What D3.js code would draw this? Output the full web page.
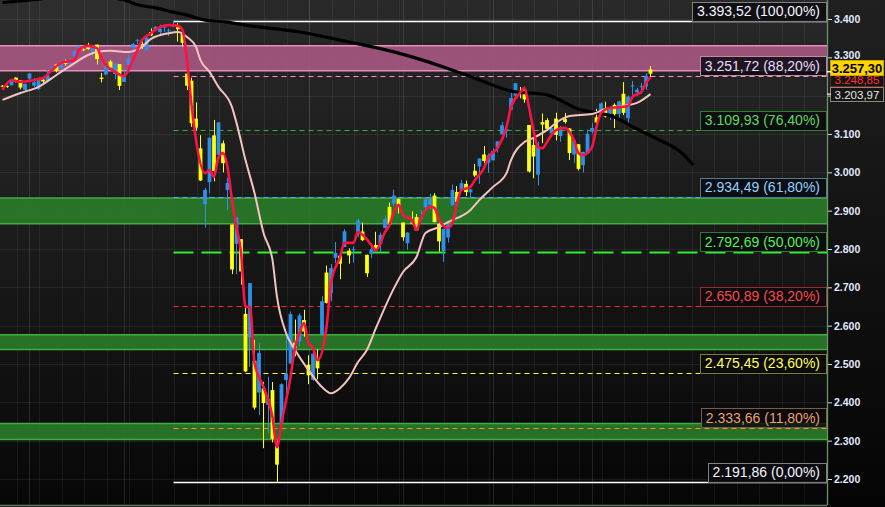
<!DOCTYPE html>
<html><head><meta charset="utf-8">
<script src="https://cdn.jsdelivr.net/npm/d3@7"></script>
<style>html,body{margin:0;padding:0;background:#0d0d0d;overflow:hidden}</style>
</head><body>
<svg id="chart" width="885" height="507"></svg>
<script>
// ---------- DATA ----------
const dates = ["2019-12-23","2019-12-24","2019-12-26","2019-12-27","2019-12-30","2019-12-31",
"2020-01-02","2020-01-03","2020-01-06","2020-01-07","2020-01-08","2020-01-09","2020-01-10","2020-01-13","2020-01-14","2020-01-15","2020-01-16","2020-01-17","2020-01-21","2020-01-22","2020-01-23","2020-01-24","2020-01-27","2020-01-28","2020-01-29","2020-01-30","2020-01-31",
"2020-02-03","2020-02-04","2020-02-05","2020-02-06","2020-02-07","2020-02-10","2020-02-11","2020-02-12","2020-02-13","2020-02-14","2020-02-18","2020-02-19","2020-02-20","2020-02-21","2020-02-24","2020-02-25","2020-02-26","2020-02-27","2020-02-28",
"2020-03-02","2020-03-03","2020-03-04","2020-03-05","2020-03-06","2020-03-09","2020-03-10","2020-03-11","2020-03-12","2020-03-13","2020-03-16","2020-03-17","2020-03-18","2020-03-19","2020-03-20","2020-03-23","2020-03-24","2020-03-25","2020-03-26","2020-03-27","2020-03-30","2020-03-31",
"2020-04-01","2020-04-02","2020-04-03","2020-04-06","2020-04-07","2020-04-08","2020-04-09","2020-04-13","2020-04-14","2020-04-15","2020-04-16","2020-04-17","2020-04-20","2020-04-21","2020-04-22","2020-04-23","2020-04-24","2020-04-27","2020-04-28","2020-04-29","2020-04-30",
"2020-05-01","2020-05-04","2020-05-05","2020-05-06","2020-05-07","2020-05-08","2020-05-11","2020-05-12","2020-05-13","2020-05-14","2020-05-15","2020-05-18","2020-05-19","2020-05-20","2020-05-21","2020-05-22","2020-05-26","2020-05-27","2020-05-28","2020-05-29",
"2020-06-01","2020-06-02","2020-06-03","2020-06-04","2020-06-05","2020-06-08","2020-06-09","2020-06-10","2020-06-11","2020-06-12","2020-06-15","2020-06-16","2020-06-17","2020-06-18","2020-06-19","2020-06-22","2020-06-23","2020-06-24","2020-06-25","2020-06-26","2020-06-29","2020-06-30",
"2020-07-01","2020-07-02","2020-07-06","2020-07-07","2020-07-08","2020-07-09","2020-07-10","2020-07-13","2020-07-14","2020-07-15","2020-07-16","2020-07-17","2020-07-20","2020-07-21"];

const opens = [3226.05,3225.45,3227.20,3247.23,3240.09,3215.18,
3244.67,3226.36,3217.55,3241.86,3238.59,3266.03,3281.81,3271.13,3285.35,3282.27,3302.97,3323.66,3321.03,3330.02,3315.77,3333.10,3247.16,3255.35,3289.46,3256.45,3282.33,
3235.66,3280.61,3324.91,3344.92,3335.54,3318.28,3365.87,3370.50,3365.90,3378.08,3369.04,3380.39,3380.45,3360.50,3257.61,3238.94,3139.90,3062.54,2916.90,
2974.28,3096.46,3045.75,3075.70,2954.20,2863.89,2813.48,2825.60,2630.86,2569.99,2508.59,2425.66,2436.50,2393.48,2431.94,2290.71,2344.44,2457.77,2501.29,2555.87,2558.98,2614.69,
2498.08,2458.54,2514.92,2578.28,2738.65,2685.00,2776.99,2782.46,2805.10,2795.64,2799.34,2842.43,2845.62,2784.81,2787.89,2810.42,2812.64,2854.65,2909.96,2918.46,2930.91,
2869.09,2815.01,2868.88,2883.14,2878.26,2908.83,2915.46,2939.50,2865.86,2794.54,2829.95,2913.86,2948.59,2953.63,2969.95,2948.05,3004.08,3015.65,3046.61,3025.17,
3031.35,3064.78,3098.90,3111.56,3163.84,3199.92,3213.32,3213.42,3123.53,3071.04,2993.76,3131.00,3136.13,3101.64,3140.29,3094.42,3138.70,3114.40,3046.60,3073.20,3018.59,3050.20,
3105.92,3143.64,3155.29,3166.44,3153.07,3176.17,3152.47,3205.08,3141.11,3225.98,3208.36,3224.21,3224.29,3268.52];

const highs = [3227.78,3226.43,3240.08,3247.93,3240.92,3231.72,
3258.14,3246.15,3246.84,3244.91,3267.07,3275.58,3282.99,3288.13,3294.25,3298.66,3317.11,3329.88,3329.79,3337.77,3326.88,3333.18,3258.85,3285.78,3293.47,3285.91,3282.33,
3268.44,3306.92,3337.58,3347.96,3341.42,3352.26,3375.63,3381.47,3385.09,3380.69,3375.01,3393.52,3389.15,3360.76,3259.81,3246.99,3182.51,3097.07,2959.72,
3090.96,3136.72,3130.97,3083.04,2985.93,2863.89,2882.59,2825.60,2660.95,2711.33,2562.98,2553.93,2453.57,2466.97,2453.01,2300.73,2449.71,2571.42,2637.01,2615.91,2631.80,2641.39,
2522.75,2533.22,2538.18,2676.85,2756.89,2760.75,2818.57,2782.46,2851.85,2801.88,2806.51,2879.22,2868.98,2785.54,2815.10,2844.90,2842.71,2887.72,2921.15,2954.86,2930.91,
2869.09,2844.24,2898.23,2891.11,2901.92,2932.16,2944.25,2945.82,2874.14,2852.80,2865.01,2968.09,2964.21,2980.29,2978.50,2956.76,3021.72,3036.25,3068.67,3049.17,
3062.18,3081.07,3130.94,3128.91,3211.72,3233.13,3222.71,3223.27,3123.53,3088.42,3079.76,3153.45,3141.16,3120.00,3155.53,3120.92,3154.90,3115.01,3086.25,3073.73,3053.89,3111.51,
3128.44,3165.81,3182.59,3184.15,3171.80,3179.78,3186.82,3235.32,3200.95,3238.28,3220.39,3233.52,3258.61,3277.29];

const lows = [3222.30,3220.51,3227.20,3234.37,3216.57,3212.03,
3235.53,3222.34,3214.64,3232.43,3236.67,3263.67,3260.86,3268.43,3277.99,3280.69,3302.82,3318.86,3316.61,3320.04,3301.87,3281.53,3234.50,3253.22,3271.89,3242.80,3214.68,
3235.66,3280.61,3313.75,3334.39,3322.12,3317.77,3355.61,3369.72,3360.52,3366.15,3355.61,3378.83,3341.02,3328.45,3214.65,3118.77,3108.99,2977.39,2855.84,
2945.19,2976.63,3034.38,2999.83,2901.54,2734.43,2734.00,2707.22,2478.86,2492.37,2380.94,2367.04,2280.52,2319.78,2295.56,2191.86,2344.44,2407.53,2500.72,2520.02,2545.28,2571.15,
2447.49,2455.79,2459.96,2574.57,2657.67,2663.30,2762.36,2721.17,2805.10,2761.54,2764.32,2830.88,2820.43,2727.10,2775.95,2794.26,2791.76,2852.89,2860.71,2912.16,2892.47,
2821.61,2797.85,2863.55,2847.65,2876.48,2902.88,2903.44,2869.59,2793.15,2766.64,2816.78,2913.86,2922.35,2953.63,2938.57,2933.59,2988.17,2969.75,3023.40,2998.61,
3031.35,3051.64,3098.90,3090.41,3163.84,3196.00,3193.11,3181.49,2999.49,2984.47,2965.66,3076.06,3108.03,3093.51,3083.11,3079.39,3127.12,3032.13,3024.01,3004.63,2999.74,3047.83,
3101.17,3124.52,3155.29,3142.93,3136.53,3115.70,3136.22,3149.43,3127.66,3200.76,3198.59,3205.65,3215.16,3247.77];

const closes = [3224.01,3223.38,3239.91,3240.02,3221.29,3230.78,
3257.85,3234.85,3246.28,3237.18,3253.05,3274.70,3265.35,3288.13,3283.15,3289.29,3316.81,3329.62,3320.79,3321.75,3325.54,3295.47,3243.63,3276.24,3273.40,3283.66,3225.52,
3248.92,3297.59,3334.69,3345.78,3327.71,3352.09,3357.75,3379.45,3373.94,3380.16,3370.29,3386.15,3373.23,3337.75,3225.89,3128.21,3116.39,2978.76,2954.22,
3090.23,3003.37,3130.12,3023.94,2972.37,2746.56,2882.23,2741.38,2480.64,2711.02,2386.13,2529.19,2398.10,2409.39,2304.92,2237.40,2447.33,2475.56,2630.07,2541.47,2626.65,2584.59,
2470.50,2526.90,2488.65,2663.68,2659.41,2749.98,2789.82,2761.63,2846.06,2783.36,2799.55,2874.56,2823.16,2736.56,2799.31,2797.80,2836.74,2878.48,2863.39,2939.51,2912.43,
2830.71,2842.74,2868.44,2848.42,2881.19,2929.80,2930.32,2870.12,2820.00,2852.50,2863.70,2953.91,2922.94,2971.61,2948.51,2955.45,2991.77,3036.13,3029.73,3044.31,
3055.73,3080.82,3122.87,3112.35,3193.93,3232.39,3207.18,3190.14,3002.10,3041.31,3066.59,3124.74,3113.49,3115.34,3097.74,3117.86,3131.29,3050.33,3083.76,3009.05,3053.24,3100.29,
3115.86,3130.01,3179.72,3145.32,3169.94,3152.05,3185.04,3155.22,3197.52,3226.56,3215.57,3224.73,3251.84,3257.30];

// moving averages: [candle index, value]
const fastMa = [[0,3215],[2,3241],[4,3236],[7,3241],[9,3246],[11,3267],[13,3285],[16,3293],[17,3319],[19,3330],[21,3324],[22,3298],[23,3280],[25,3262],[27,3251],[29,3293],[30,3319],[31,3345],[33,3363],[35,3379],[37,3384],[39,3382],[40,3371],[41,3293],[42,3176],[43,3084],[45,2998],[46,3006],[47,2988],[48,3040],[49,3050],[50,3014],[51,2928],[52,2857],[53,2792],[54,2649],[55,2649],[56,2503],[58,2440],[60,2362],[61,2283],[62,2346],[64,2466],[65,2542],[66,2581],[67,2607],[68,2555],[69,2542],[70,2510],[72,2596],[73,2711],[75,2779],[76,2816],[78,2816],[79,2844],[80,2837],[82,2810],[83,2797],[85,2844],[86,2863],[87,2897],[88,2915],[89,2889],[91,2876],[92,2850],[93,2881],[95,2910],[96,2907],[97,2876],[99,2855],[100,2868],[101,2920],[102,2954],[104,2962],[105,2980],[107,3011],[108,3040],[110,3063],[112,3118],[113,3170],[115,3207],[116,3220],[117,3170],[118,3110],[119,3066],[120,3063],[121,3079],[122,3097],[123,3110],[125,3116],[126,3105],[127,3084],[128,3050],[129,3045],[131,3066],[132,3118],[133,3155],[135,3168],[137,3170],[139,3173],[140,3197],[142,3210],[143,3233],[144,3248.85]];
const slowMa = [[0,3189],[4,3207],[8,3223],[12,3254],[16,3285],[19,3306],[21,3314],[24,3317],[28,3314],[31,3327],[33,3348],[37,3363],[39,3366],[41,3353],[43,3327],[44,3293],[46,3262],[48,3223],[51,3170],[52,3129],[54,3032],[56,2946],[58,2842],[60,2771],[61,2675],[63,2581],[65,2537],[68,2484],[71,2440],[73,2424],[75,2437],[77,2463],[79,2505],[81,2537],[83,2594],[87,2698],[89,2740],[92,2779],[94,2842],[97,2857],[99,2870],[104,2902],[106,2928],[109,2962],[112,2998],[113,3032],[116,3079],[118,3090],[121,3110],[124,3137],[126,3147],[131,3152],[134,3165],[138,3173],[141,3181],[144,3203.97]];
const longMa = [[0,3443],[4,3447],[8,3452],[14,3460],[20,3462],[26,3452],[27,3450],[30,3437],[34,3429],[38,3418],[41,3410],[45,3397],[50,3392],[54,3384],[66,3366],[77,3340],[88,3311],[98,3275],[106,3241],[113,3212],[121,3202],[128,3165],[136,3144],[141,3113],[145,3090],[151,3050],[153.5,3019]];

// Fibonacci retracement
const fibValues  = [3393.52, 3251.72, 3109.93, 2934.49, 2792.69, 2650.89, 2475.45, 2333.66, 2191.86];
const fibPercent = ["100,00%","88,20%","76,40%","61,80%","50,00%","38,20%","23,60%","11,80%","0,00%"];
const fibStartIndex = 38;

// support / resistance zones
const zoneLows  = [3265, 2866, 2538, 2303];
const zoneHighs = [3330, 2933, 2576, 2345];

const yTicks = [2200,2300,2400,2500,2600,2700,2800,2900,3000,3100,3200,3300,3400];
const hiddenTicks = [3200];   // covered by the value labels in the original
const lastPrice = 3257.30, fastMaLast = 3248.85, slowMaLast = 3203.97;

// ---------- STYLE ----------
const fibLineColors = ["#ffffff","#ff8cc0","#2cb82c","#4aaeff","#2ef02e","#ff2626","#ffff33","#ff8a35","#ffffff"];
const fibDash       = [null,"5,4","5,4","5,4","20,8","5,4","5,4","5,4",null];
const fibTextColors = ["#f4f4ff","#e6dcff","#5fd85f","#8fd2ff","#55f055","#ff4545","#ffff55","#eaa070","#f4f4ff"];
const fibBoxColors  = ["#808080","#c08aa6","#2e7c2e","#4f7b93","#2e7c2e","#a02a2a","#7c7c30","#7c5c42","#808080"];
const zoneFill   = ["#a4567f","#2a7a2a","#2a7a2a","#2a7a2a"];
const zoneStroke = ["#e88cbe","#42ac42","#42ac42","#42ac42"];
const UP = "#2f90ea", DOWN = "#ffff10";
const FONT = "'Liberation Sans', Arial, sans-serif";

const W = 885, H = 507, plotR = 827, plotB = 505;
const svg = d3.select("#chart");
const loc = d3.formatLocale({decimal:",", thousands:".", grouping:[3], currency:["",""]});
const f2 = loc.format(",.2f"), f0 = loc.format(",.0f");

const x = d3.scaleLinear().domain([0, dates.length - 1]).range([2.5, 650.5]);
const y = d3.scaleLinear().domain([2200, 3400]).range([479, 19]);

const defs = svg.append("defs");
const grad = defs.append("linearGradient").attr("id","bg").attr("x1",0).attr("y1",0).attr("x2",0).attr("y2",1);
grad.append("stop").attr("offset","0%").attr("stop-color","#2e2e2e");
grad.append("stop").attr("offset","50%").attr("stop-color","#1a1a1a");
grad.append("stop").attr("offset","100%").attr("stop-color","#070707");
defs.append("clipPath").attr("id","clip").append("rect").attr("x",0).attr("y",0).attr("width",plotR).attr("height",plotB);

svg.append("rect").attr("width",W).attr("height",H).attr("fill","url(#bg)");
svg.append("rect").attr("x",x(fibStartIndex)).attr("y",0).attr("width",plotR - x(fibStartIndex)).attr("height",plotB).attr("fill","rgba(0,0,0,0.10)");
svg.append("rect").attr("x",plotR).attr("y",0).attr("width",W-plotR).attr("height",H).attr("fill","rgba(0,0,0,0.3)");

const plot = svg.append("g").attr("clip-path","url(#clip)");

// grid
const vGrid = d3.range(3.2, 185, 5);
plot.selectAll("line.vg").data(vGrid).join("line")
  .attr("x1",d=>Math.round(x(d))+0.5).attr("x2",d=>Math.round(x(d))+0.5)
  .attr("y1",0).attr("y2",plotB).attr("stroke","rgba(255,255,255,0.06)");
const monthStarts = dates.map((d,i)=>i).filter(i=>i>0 && dates[i].slice(5,7)!==dates[i-1].slice(5,7));
plot.selectAll("line.mg").data(monthStarts).join("line")
  .attr("x1",d=>Math.round(x(d))+0.5).attr("x2",d=>Math.round(x(d))+0.5)
  .attr("y1",0).attr("y2",plotB).attr("stroke","rgba(255,255,255,0.11)");
plot.selectAll("line.hg").data(yTicks).join("line")
  .attr("x1",0).attr("x2",plotR).attr("y1",d=>Math.round(y(d))+0.5).attr("y2",d=>Math.round(y(d))+0.5)
  .attr("stroke","rgba(255,255,255,0.07)");

// zones
const zones = zoneLows.map((l,i)=>({l, h:zoneHighs[i], i}));
plot.selectAll("rect.zone").data(zones).join("rect")
  .attr("x",0).attr("width",plotR)
  .attr("y",d=>y(d.h)).attr("height",d=>y(d.l)-y(d.h))
  .attr("fill",d=>zoneFill[d.i]).attr("fill-opacity",0.93);
zones.forEach(z=>{
  [z.h, z.l].forEach(v=>{
    plot.append("line").attr("x1",0).attr("x2",plotR).attr("y1",y(v)).attr("y2",y(v))
      .attr("stroke",zoneStroke[z.i]).attr("stroke-width",1.5);
  });
});

// fib lines
const fibs = fibValues.map((v,i)=>({v,i}));
plot.selectAll("line.fib").data(fibs).join("line")
  .attr("x1",x(fibStartIndex)).attr("x2",plotR)
  .attr("y1",d=>Math.round(y(d.v))+0.5).attr("y2",d=>Math.round(y(d.v))+0.5)
  .attr("stroke",d=>fibLineColors[d.i])
  .attr("stroke-width",d=>d.i===4?2:(fibDash[d.i]?1.2:1.5))
  .attr("stroke-dasharray",d=>fibDash[d.i]);

// candles
const candles = dates.map((d,i)=>({i,o:opens[i],h:highs[i],l:lows[i],c:closes[i]}));
const bw = 3.8;
plot.selectAll("line.wick").data(candles).join("line")
  .attr("x1",d=>Math.round(x(d.i)-0.5)+0.5).attr("x2",d=>Math.round(x(d.i)-0.5)+0.5)
  .attr("y1",d=>y(d.h)).attr("y2",d=>y(d.l))
  .attr("stroke",d=>d.c>=d.o?UP:DOWN).attr("stroke-width",1);
plot.selectAll("rect.body").data(candles).join("rect")
  .attr("x",d=>x(d.i)-bw/2).attr("width",bw)
  .attr("y",d=>y(Math.max(d.o,d.c)))
  .attr("height",d=>Math.max(1,Math.abs(y(d.o)-y(d.c))))
  .attr("fill",d=>d.c>=d.o?UP:DOWN);

// moving averages
const line = d3.line().x(d=>x(d[0])).y(d=>y(d[1])).curve(d3.curveMonotoneX);
plot.append("path").datum(longMa).attr("d",line).attr("fill","none").attr("stroke","#000").attr("stroke-width",3.2);
plot.append("path").datum(slowMa).attr("d",line).attr("fill","none").attr("stroke","#f3c4c0").attr("stroke-width",2);
plot.append("path").datum(fastMa).attr("d",line).attr("fill","none").attr("stroke","#ff1144").attr("stroke-width",2.6);

// fib labels
const labG = svg.append("g");
fibs.forEach(d=>{
  const yy = y(d.v);
  const g = labG.append("g");
  const rect = g.append("rect");
  const t = g.append("text").attr("x",820).attr("y",yy-5)
    .attr("text-anchor","end").attr("font-family",FONT)
    .attr("font-size",14).attr("fill",fibTextColors[d.i])
    .text(f2(d.v)+" ("+fibPercent[d.i]+")");
  const w = t.node().getComputedTextLength();
  const left = Math.round(820-w-5);
  rect.attr("x",left+0.5).attr("y",Math.round(yy-19.5)+0.5)
    .attr("width",826-left).attr("height",19)
    .attr("fill","rgba(12,12,16,0.85)").attr("stroke",fibBoxColors[d.i]).attr("stroke-width",1);
});

// axis
const axis = d3.axisRight(y).tickValues(yTicks).tickFormat(d=>hiddenTicks.includes(d)?"":f0(d)).tickSize(5).tickPadding(2);
const ag = svg.append("g").attr("transform",`translate(${plotR},0)`).call(axis);
ag.select(".domain").remove();
ag.selectAll(".tick line").attr("stroke","#d8d8d8");
ag.selectAll(".tick text").attr("fill","#e2eaff").attr("font-family",FONT)
  .attr("font-size",10.5).attr("font-weight","bold");
ag.selectAll(".tick").filter(d=>d===3300).select("text").attr("dy","0.1em");
svg.append("line").attr("x1",plotR+0.5).attr("x2",plotR+0.5).attr("y1",0).attr("y2",plotB)
  .attr("stroke","#6c946c").attr("stroke-width",1.3);
svg.append("line").attr("x1",0).attr("x2",plotR).attr("y1",plotB+0.5).attr("y2",plotB+0.5)
  .attr("stroke","#5f7f5f").attr("stroke-width",1.3);

// right-axis value labels
function valueLabel(v, top, h, fill, stroke, color, bold, size){
  const g = svg.append("g");
  g.append("rect").attr("x",830.5).attr("y",top+0.5).attr("width",53).attr("height",h)
    .attr("fill",fill).attr("stroke",stroke);
  g.append("text").attr("x",857).attr("y",top+h/2+0.5).attr("dy","0.36em").attr("text-anchor","middle")
    .attr("font-family",FONT).attr("font-size",size)
    .attr("font-weight",bold?"bold":"normal").attr("fill",color).text(f2(v));
}
valueLabel(slowMaLast, Math.round(y(slowMaLast))-7, 14, "#161616", "#7f8f70", "#e6e6e6", false, 11.5);
svg.append("line").attr("x1",plotR).attr("x2",plotR+4).attr("y1",y(slowMaLast)).attr("y2",y(slowMaLast)).attr("stroke","#f3c4c0").attr("stroke-width",1.5);
valueLabel(fastMaLast, Math.round(y(fastMaLast))-4, 13, "#141414", "#7a2020", "#ff3030", false, 11.5);
valueLabel(lastPrice, 60, 15, "#ffd500", "#c9a200", "#000", true, 13);
svg.append("line").attr("x1",plotR).attr("x2",plotR+4).attr("y1",y(lastPrice)-2).attr("y2",y(lastPrice)-2).attr("stroke","#fff").attr("stroke-width",1.5);
</script>
</body></html>
